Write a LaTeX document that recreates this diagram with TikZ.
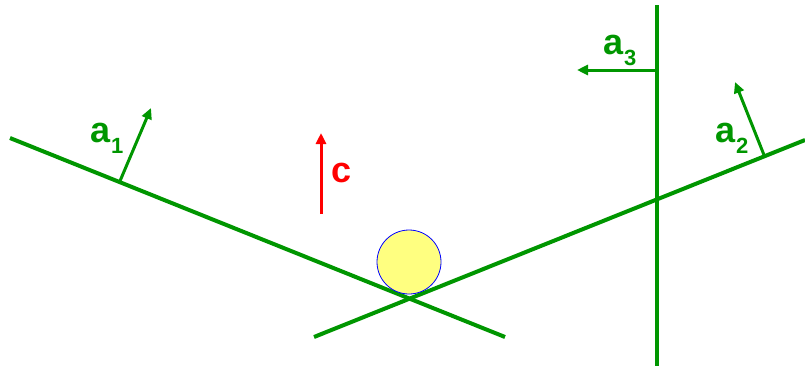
\documentclass[tikz,border=0pt]{standalone}
\usepackage{fontspec}
\setmainfont{Liberation Sans}
\usetikzlibrary{arrows.meta}
\definecolor{gr}{RGB}{0,150,0}
\definecolor{rd}{RGB}{255,0,0}
\definecolor{ballfill}{RGB}{255,255,128}
\begin{document}
\begin{tikzpicture}[x=1pt,y=-1pt,
  wall/.style={draw=gr,line width=4pt},
  vec/.style={draw=gr,line width=3pt,-{Triangle[length=11pt,width=10pt]}},
  cvec/.style={draw=rd,line width=3pt,-{Triangle[length=11pt,width=10pt]}},
  lbl/.style={inner sep=0pt,anchor=base west,font=\fontsize{36}{40}\selectfont\bfseries},
  sub/.style={inner sep=0pt,anchor=base west,font=\fontsize{22}{24}\selectfont\bfseries}]
\useasboundingbox (0,0) rectangle (805,367);
% lines
\coordinate (L1a) at (10,138);
\coordinate (L1b) at (505,337);
\coordinate (L2a) at (314,337);
\coordinate (L2b) at (805,140);
\coordinate (Vt) at (657,5);
\coordinate (Vb) at (657,366);
\draw[wall] (L1a) -- (L1b);
\draw[wall] (L2a) -- (L2b);
\draw[wall] (Vt) -- (Vb);
% ball
\node[circle,draw=blue,line width=0.8pt,fill=ballfill,minimum size=64pt,inner sep=0pt] (ball) at (409,262) {};
% vectors
\coordinate (a1s) at (120,181);
\coordinate (a1e) at (151,108);
\draw[vec] (a1s) -- (a1e);
\coordinate (a2s) at (764,155);
\coordinate (a2e) at (735,82);
\draw[vec] (a2s) -- (a2e);
\coordinate (a3s) at (657,70);
\coordinate (a3e) at (577,70);
\draw[vec] (a3s) -- (a3e);
\coordinate (cs) at (321,214);
\coordinate (ce) at (321,133);
\draw[cvec] (cs) -- (ce);
% labels
\node[lbl,text=gr] (a1) at (90,142) {a};
\node[sub,text=gr] (a1i) at (111,153) {1};
\node[lbl,text=gr] (a2) at (715,142) {a};
\node[sub,text=gr] (a2i) at (736,153) {2};
\node[lbl,text=gr] (a3) at (603,54) {a};
\node[sub,text=gr] (a3i) at (624,65) {3};
\node[lbl,text=rd] (c) at (331,182) {c};
\end{tikzpicture}
\end{document}
